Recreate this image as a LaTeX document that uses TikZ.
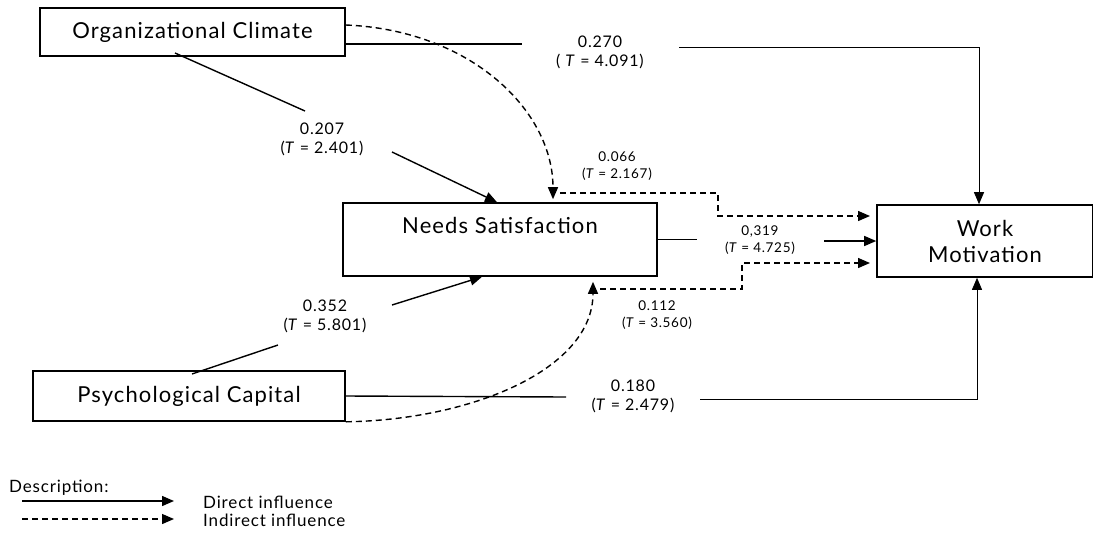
\documentclass[tikz,border=0pt]{standalone}
\usepackage{fontspec}
\setmainfont{Lato}[LetterSpace = 5]
\usetikzlibrary{arrows.meta}

\begin{document}
\begin{tikzpicture}[x = 1pt, y = -1pt]
	\tikzstyle{boxStyle} = [draw, line width = 1.6pt, inner sep = 0pt, font = \fontsize{22}{26}\selectfont]
	\tikzstyle{labelStyle} = [align = center, inner sep = 0pt, font = \fontsize{16}{19}\selectfont]
	\tikzstyle{smallLabelStyle} = [align = center, inner sep = 0pt, font = \fontsize{13.5}{16.5}\selectfont]
	\tikzstyle{legendStyle} = [anchor = west, inner sep = 0pt, font = \fontsize{17}{19}\selectfont]
	\tikzstyle{direct} = [line width = 1.4pt]
	\tikzstyle{thinDirect} = [line width = 0.9pt]
	\tikzstyle{indirect} = [line width = 1.4pt, dash pattern = on 6pt off 4pt]
	\tikzstyle{tip} = [-{Triangle[length = 12pt, width = 10pt]}]
	\useasboundingbox (0,0) rectangle (1093,558);
	\node[boxStyle, minimum width = 305pt, minimum height = 48pt] (oc) at (192.5,32) {Organizational Climate};
	\node[boxStyle, minimum width = 314pt, text height = 30pt, text depth = 43pt] (ns) at (500,239.5) {Needs Satisfaction};
	\node[boxStyle, minimum width = 216pt, minimum height = 72pt, align = center] (wm) at (985,241) {Work\\Motivation};
	\node[boxStyle, minimum width = 312pt, minimum height = 50pt] (pc) at (189,396) {Psychological Capital};
	\node[labelStyle] (l270) at (600,52) {0.270\\( \textit{T} = 4.091)};
	\node[labelStyle] (l207) at (322,139) {0.207\\(\textit{T} = 2.401)};
	\node[smallLabelStyle] (l066) at (617,166) {0.066\\(\textit{T} = 2.167)};
	\node[smallLabelStyle] (l319) at (760,240) {0,319\\(\textit{T} = 4.725)};
	\node[smallLabelStyle] (l112) at (657,315) {0.112\\(\textit{T} = 3.560)};
	\node[labelStyle] (l352) at (325,316) {0.352\\(\textit{T} = 5.801)};
	\node[labelStyle] (l180) at (633,396) {0.180\\(\textit{T} = 2.479)};
	\coordinate (a1) at (522,44);
	\coordinate (a2) at (679,47);
	\coordinate (b1) at (175,53);
	\coordinate (b2) at (305,111);
	\coordinate (b3) at (392,152);
	\coordinate (e1) at (192,374);
	\coordinate (e2) at (278,345);
	\coordinate (e3) at (392,305);
	\coordinate (f1) at (697,239.5);
	\coordinate (f2) at (824,241);
	\coordinate (g1) at (566,397);
	\coordinate (g2) at (700,399);
	\coordinate (c1) at (560,193);
	\coordinate (c2) at (718,216);
	\coordinate (c3) at (870,216);
	\coordinate (c4) at (600,289);
	\coordinate (c5) at (742,263);
	\coordinate (c6) at (870,263);
	\draw[direct] ([yshift = -12pt]oc.east) -- (a1);
	\draw[thinDirect, tip] (a2) -| ([xshift = -6pt]wm.north);
	\draw[direct] (b1) -- (b2);
	\draw[direct, tip] (b3) -- ([xshift = -3pt]ns.north);
	\draw[direct] (e1) -- (e2);
	\draw[direct, tip] (e3) -- ([xshift = -18pt]ns.south);
	\draw[direct] (ns.east) -- (f1);
	\draw[direct, tip] (f2) -- (wm.west);
	\draw[direct] (pc.east) -- (g1);
	\draw[thinDirect, tip] (g2) -| ([xshift = -8pt]wm.south);
	\draw[indirect, tip] ([yshift = 7pt]oc.east) .. controls (470,30) and (553,110) .. ([xshift = 53pt, yshift = 3pt]ns.north);
	\draw[indirect, tip] (c1) -| (c2) -- (c3);
	\draw[indirect, tip] (pc.south east) .. controls (470,420) and (593,370) .. ([xshift = 93pt, yshift = -5pt]ns.south);
	\draw[indirect, tip] (c4) -| (c5) -- (c6);
	\node[legendStyle] (desc) at (9,488) {Description:};
	\coordinate (k1) at (22,501);
	\coordinate (k2) at (174,501);
	\coordinate (k3) at (22,519);
	\coordinate (k4) at (174,519);
	\draw[direct, tip] (k1) -- (k2);
	\draw[indirect, tip] (k3) -- (k4);
	\node[legendStyle] (dirText) at (203,502) {Direct influence};
	\node[legendStyle] (indText) at (203,520) {Indirect influence};
\end{tikzpicture}
\end{document}
